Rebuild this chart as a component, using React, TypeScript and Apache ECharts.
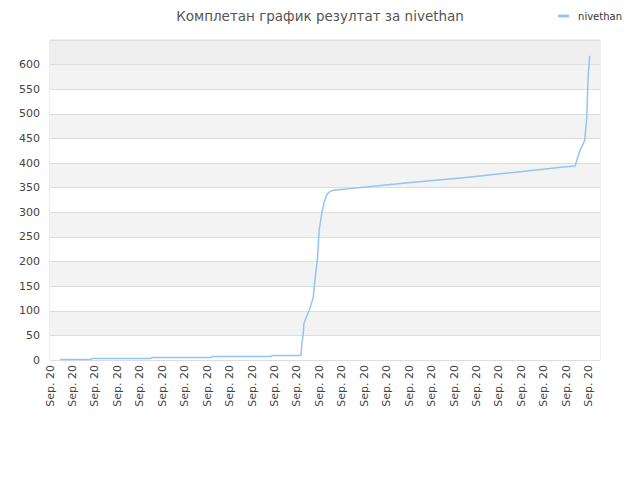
import * as echarts from 'echarts';
import { useEffect, useRef } from 'react';

const title = 'Комплетан график резултат за nivethan';
const playerName = 'nivethan';

// x positions in axis units (one unit per date tick)
const progressX = [
  0.45, 1.83, 1.87, 4.5, 4.54, 7.17, 7.22, 9.84, 9.89, 11.18, 11.22, 11.28, 11.31, 11.43, 11.58, 11.73,
  11.77, 11.85, 11.92, 11.97, 12.0, 12.06, 12.12, 12.2, 12.32, 12.43, 12.62, 13.96, 16.18, 18.41, 20.64,
  22.86, 23.39, 23.61, 23.82, 23.91, 23.95, 23.98, 24.04,
];
const progressY = [
  1, 1, 3, 3, 5, 5, 7, 7, 9, 9, 34, 51, 74, 88, 105, 128, 149, 182, 209, 250, 267, 284, 301, 318, 335,
  341, 345, 351, 361, 370, 381, 392, 394, 426, 446, 493, 547, 581, 618,
];

const dateLabels = Array.from({ length: 25 }, () => 'Sep. 20');

const bandColors = [
  '#ffffff', '#f3f3f3', '#ffffff', '#f3f3f3', '#ffffff', '#f3f3f3', '#ffffff',
  '#f3f3f3', '#ffffff', '#f3f3f3', '#ffffff', '#f3f3f3', '#eeeeee',
];

const font = 'DejaVu Sans, sans-serif';

function buildOption() {
  return {
    animation: false,
    title: {
      text: title,
      left: 'center',
      top: 4,
      textStyle: { fontFamily: font, fontSize: 13.5, fontWeight: 'normal', color: '#555' },
    },
    legend: {
      right: 13,
      top: 6,
      icon: 'rect',
      itemWidth: 11,
      itemHeight: 3,
      itemGap: 5,
      textStyle: { fontFamily: font, fontSize: 10, color: '#333', padding: [0, 0, 0, 4] },
      data: [playerName],
    },
    grid: {
      left: 50,
      right: 40,
      top: 40,
      bottom: 120,
      show: true,
      borderColor: '#dddddd',
      borderWidth: 1,
      containLabel: false,
    },
    xAxis: {
      type: 'value',
      min: 0,
      max: 24.5,
      interval: 1,
      axisLine: { show: false },
      axisTick: { show: false },
      splitLine: { show: false },
      axisLabel: {
        rotate: 90,
        showMaxLabel: false,
        margin: 5,
        fontFamily: font,
        fontSize: 11,
        color: '#444',
        formatter: (v: number) => dateLabels[Math.round(v)] ?? '',
      },
    },
    yAxis: {
      type: 'value',
      min: 0,
      max: 650,
      interval: 50,
      axisLine: { show: false },
      axisTick: { show: false },
      axisLabel: {
        showMaxLabel: false,
        margin: 10,
        fontFamily: font,
        fontSize: 11,
        color: '#444',
      },
      splitLine: { lineStyle: { color: '#dddddd', width: 1 } },
      splitArea: { show: true, areaStyle: { color: bandColors } },
    },
    series: [
      {
        name: playerName,
        type: 'line',
        showSymbol: false,
        symbol: 'none',
        color: '#94c4f4',
        lineStyle: { color: '#94c4f4', width: 1.5 },
        data: progressX.map((x, i) => [x, progressY[i]]),
      },
    ],
  };
}

export default function App() {
  const ref = useRef<HTMLDivElement | null>(null);

  useEffect(() => {
    if (!ref.current) return;
    const chart = echarts.init(ref.current, undefined, { renderer: 'svg' });
    chart.setOption(buildOption());
    return () => chart.dispose();
  }, []);

  return <div ref={ref} style={{ width: 640, height: 480, margin: -8 }} />;
}
